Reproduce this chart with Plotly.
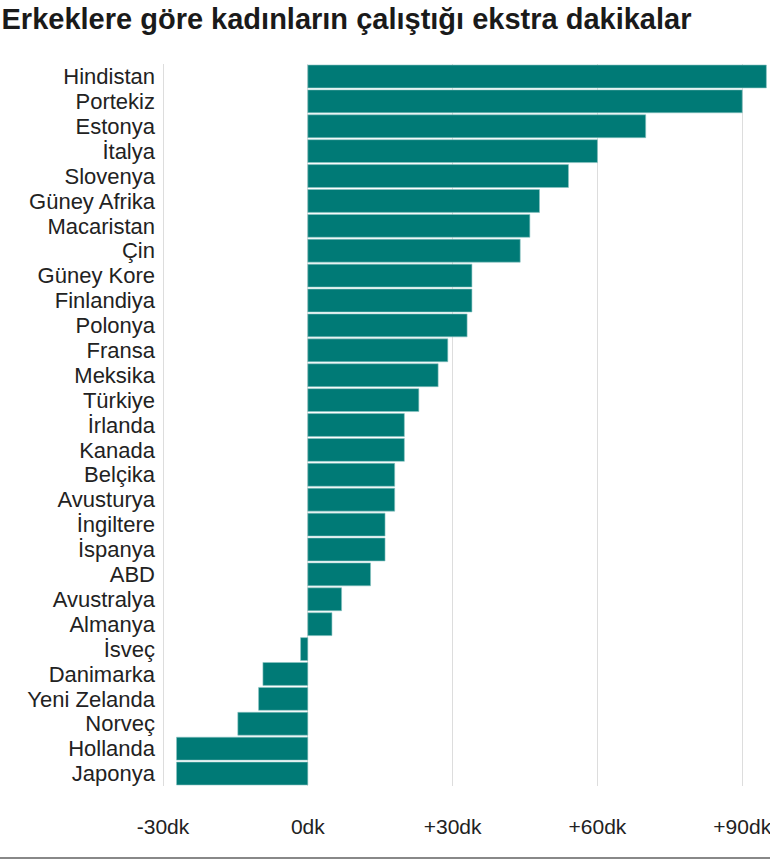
import plotly.graph_objects as go

countries = ["Hindistan", "Portekiz", "Estonya", "İtalya", "Slovenya", "Güney Afrika",
             "Macaristan", "Çin", "Güney Kore", "Finlandiya", "Polonya", "Fransa",
             "Meksika", "Türkiye", "İrlanda", "Kanada", "Belçika", "Avusturya",
             "İngiltere", "İspanya", "ABD", "Avustralya", "Almanya", "İsveç",
             "Danimarka", "Yeni Zelanda", "Norveç", "Hollanda", "Japonya"]
minutes = [95, 90, 70, 60, 54, 48, 46, 44, 34, 34, 33, 29, 27, 23, 20, 20, 18, 18,
           16, 16, 13, 7, 5, -1.5, -9.3, -10.2, -14.5, -27.2, -27.2]
tick_vals = [-30, 0, 30, 60, 90]
tick_text = ["-30dk", "0dk", "+30dk", "+60dk", "+90dk"]

fig = go.Figure(go.Bar(
    x=minutes, y=countries, orientation="h",
    marker=dict(color="#007a76", line=dict(color="#8cc5c2", width=0.6)),
    hoverinfo="x+y",
))

fig.update_layout(
    width=770, height=866,
    margin=dict(l=163, r=0, t=64, b=80),
    paper_bgcolor="white", plot_bgcolor="white",
    bargap=0.08,
    showlegend=False,
    font=dict(family="Liberation Sans, Arial, sans-serif", size=22, color="#222222"),
    title=dict(text="<b>Erkeklere göre kadınların çalıştığı ekstra dakikalar</b>",
               x=0.002, xref="container", xanchor="left",
               y=1 - 19 / 866, yref="container", yanchor="middle",
               font=dict(family="Liberation Sans, Arial, sans-serif", size=29, color="#1a1a1a")),
    xaxis=dict(range=[-30, 95.75], tickmode="array", tickvals=tick_vals, ticktext=tick_text,
               showgrid=True, gridcolor="#dddddd", gridwidth=1, zeroline=False,
               showline=False, ticks="", ticklabelstandoff=26, automargin=False,
               ticklabeloverflow="allow",
               tickfont=dict(size=21, color="#222222"), fixedrange=True),
    yaxis=dict(autorange="reversed", tickmode="array", tickvals=countries, ticktext=countries,
               showgrid=False, zeroline=False, showline=False,
               ticks="", ticklabelstandoff=7, automargin=False,
               tickfont=dict(size=22, color="#222222")),
    shapes=[
        dict(type="line", xref="x", yref="paper", x0=tick_vals[0], x1=tick_vals[0],
             y0=0, y1=1, layer="below", line=dict(color="#dddddd", width=2)),
        dict(type="line", xref="paper", yref="paper", x0=-163 / 607, x1=1.0,
             y0=-72 / 722, y1=-72 / 722, line=dict(color="#888888", width=2)),
    ],
)

fig.write_html("out.html", config={"displayModeBar": False},
               post_script="document.body.style.margin='0';")
